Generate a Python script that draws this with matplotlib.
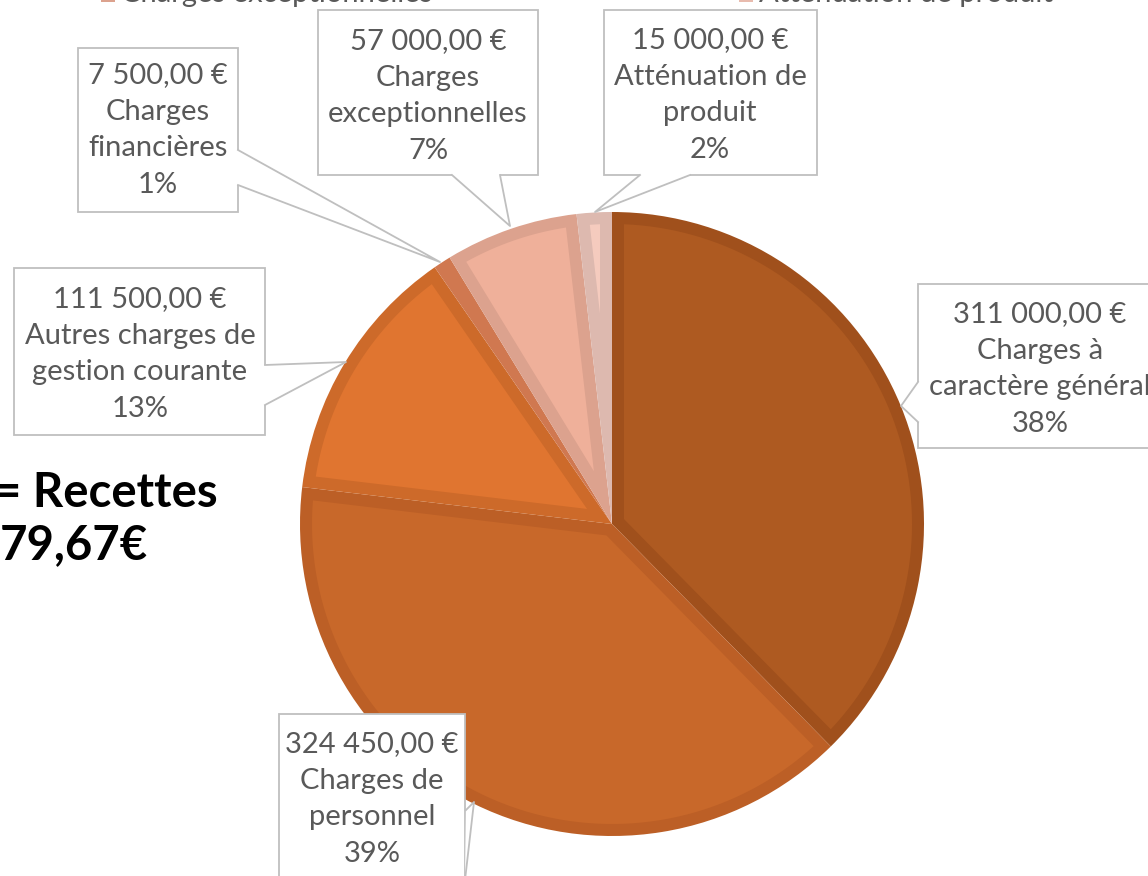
import numpy as np
import matplotlib.pyplot as plt
from matplotlib.patches import Rectangle, Polygon

plt.rcParams['font.family'] = ['Lato', 'DejaVu Sans']

# data, clockwise from the top of the pie
categories = ['Charges à caractère général', 'Charges de personnel',
              'Autres charges de gestion courante', 'Charges financières',
              'Charges exceptionnelles', 'Atténuation de produit']
label_names = ['Charges à\ncaractère général', 'Charges de\npersonnel',
               'Autres charges de\ngestion courante', 'Charges\nfinancières',
               'Charges\nexceptionnelles', 'Atténuation de\nproduit']
values = [311000, 324450, 111500, 7500, 57000, 15000]
fill_colors = ['#AE5A21', '#C8682A', '#E07530', '#D9835A', '#EFB09A', '#F5CBBE']
edge_colors = ['#A0501C', '#BC5F26', '#CD6A2A', '#D07850', '#DCA28E', '#DDB9AF']

# callouts in pixel coords: box (x0, y0, x1, y1), two base points, tip, text centre
callouts = [
    ((918, 284, 1160, 448), (918, 382), (918, 422), (901, 406), (1040, 369)),
    ((279, 714, 465, 890), (466, 810), (465, 880), (474, 802), (372, 799)),
    ((14, 268, 265, 435), (265, 365), (265, 405), (346, 362), (140, 354)),
    ((78, 48, 238, 212), (238, 150), (238, 185), (440, 262), (158, 130)),
    ((318, 10, 538, 175), (452, 175), (500, 175), (510, 226), (428, 96)),
    ((604, 10, 817, 175), (640, 175), (690, 175), (595, 212), (710, 95)),
]

W, H = 1148, 876
fig = plt.figure(figsize=(W / 100, H / 100), dpi=100)
ax = fig.add_axes([0, 0, 1, 1])

cx, cy, r = 612, 524, 312
border = 12
wedges, _ = ax.pie(values, colors=edge_colors, center=(cx, cy), radius=r,
                   startangle=-90, counterclock=True, frame=True,
                   wedgeprops=dict(linewidth=0))

# lighter inner fill, inset from the wedge outline
for w, fc in zip(wedges, fill_colors):
    t1, t2 = np.radians(w.theta1), np.radians(w.theta2)
    half = (t2 - t1) / 2
    rin = r - border
    d = np.arcsin(border / rin)
    if 2 * d >= t2 - t1:
        continue
    apex_r = border / np.sin(half)
    mid = t1 + half
    arc = np.linspace(t1 + d, t2 - d, 80)
    pts = [(cx + apex_r * np.cos(mid), cy + apex_r * np.sin(mid))]
    pts += list(zip(cx + rin * np.cos(arc), cy + rin * np.sin(arc)))
    ax.add_patch(Polygon(pts, closed=True, facecolor=fc, edgecolor='none', zorder=2))

ax.set_xlim(0, W)
ax.set_ylim(H, 0)
ax.set_aspect('auto')
ax.axis('off')

total = sum(values)
grey = '#BFBFBF'
txt_color = '#595959'


def money(v):
    return f'{v:,}'.replace(',', ' ') + ',00 €'


for v, name, (box, b1, b2, tip, tc) in zip(values, label_names, callouts):
    x0, y0, x1, y1 = box
    ax.add_patch(Rectangle((x0, y0), x1 - x0, y1 - y0, facecolor='white',
                           edgecolor=grey, linewidth=1.3, zorder=5))
    # open the box edge under the pointer
    if b1[0] == b2[0]:
        s = -3 if b1[0] == x0 else 3
        pts = [(b1[0] - s, b1[1]), b1, tip, b2, (b2[0] - s, b2[1])]
    else:
        pts = [(b1[0], b1[1] - 3), b1, tip, b2, (b2[0], b2[1] - 3)]
    ax.add_patch(Polygon(pts, closed=True, facecolor='white', edgecolor='none', zorder=6))
    ax.plot([b1[0], tip[0], b2[0]], [b1[1], tip[1], b2[1]], color=grey, lw=1.3, zorder=7)
    pct = round(v / total * 100)
    ax.text(tc[0], tc[1], f'{money(v)}\n{name}\n{pct}%', ha='center', va='center',
            fontsize=21, color=txt_color, linespacing=1.5, zorder=8)

# top legend (cut off by the frame)
ax.add_patch(Rectangle((101, -12), 14, 14, facecolor=edge_colors[4], edgecolor='none'))
ax.text(121, 2, categories[4], fontsize=21, color=txt_color, va='baseline')
ax.add_patch(Rectangle((739, -12), 14, 14, facecolor='#E8BBAE', edgecolor='none'))
ax.text(759, 2, categories[5], fontsize=21, color=txt_color, va='baseline')

# side note, partly cut off
ax.text(218, 493, '= Recettes', ha='right', va='center', fontsize=34,
        fontweight='bold', color='black')
ax.text(148, 545, '79,67€', ha='right', va='center', fontsize=34,
        fontweight='bold', color='black')

fig.savefig('out.png', dpi=100)
